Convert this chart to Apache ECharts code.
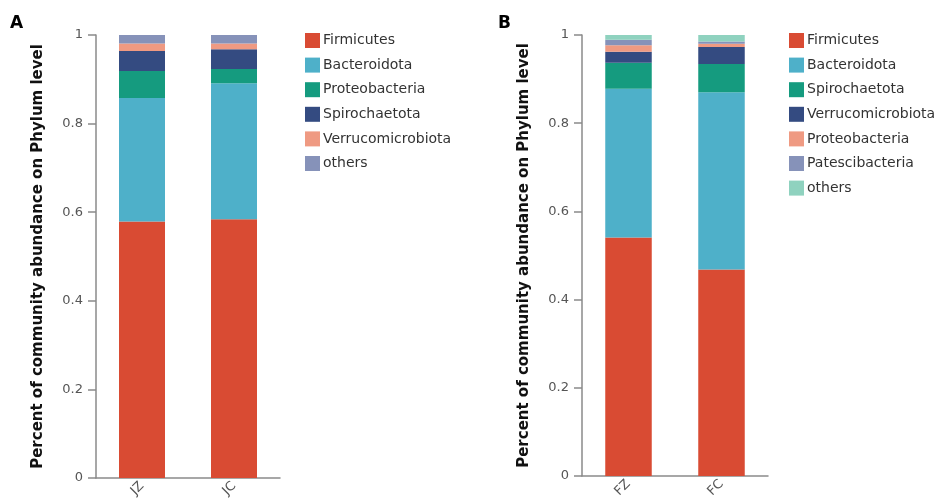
<!DOCTYPE html>
<html>
<head>
<meta charset="utf-8">
<script src="https://cdn.jsdelivr.net/npm/echarts@6/dist/echarts.min.js"></script>
<style>
  html, body { margin: 0; padding: 0; background: #fff; }
  #main { width: 936px; height: 504px; }
</style>
</head>
<body>
<div id="main"></div>
<script>
// panel A
var groupsA = ['JZ', 'JC'];
var phylaA = ['Firmicutes', 'Bacteroidota', 'Proteobacteria', 'Spirochaetota', 'Verrucomicrobiota', 'others'];
var colorsA = ['#d94b33', '#4eb0c9', '#159b7f', '#344b81', '#ef9a82', '#8692b9'];
var valuesA = [
    [0.579, 0.584],
    [0.279, 0.307],
    [0.061, 0.032],
    [0.045, 0.045],
    [0.017, 0.013],
    [0.019, 0.019]
];

// panel B
var groupsB = ['FZ', 'FC'];
var phylaB = ['Firmicutes', 'Bacteroidota', 'Spirochaetota', 'Verrucomicrobiota', 'Proteobacteria', 'Patescibacteria', 'others'];
var colorsB = ['#d94b33', '#4eb0c9', '#159b7f', '#344b81', '#ef9a82', '#8692b9', '#8fd2bf'];
var valuesB = [
    [0.541, 0.468],
    [0.337, 0.402],
    [0.059, 0.064],
    [0.025, 0.039],
    [0.015, 0.007],
    [0.012, 0.005],
    [0.011, 0.015]
];

var yTicks = [0, 0.2, 0.4, 0.6, 0.8, 1];
var yName = 'Percent of community abundance on Phylum level';

var font = 'DejaVu Sans, Liberation Sans, Arial, sans-serif';
var axisGrey = '#8a8a8a';

function xAxis(idx, data) {
    return {
        type: 'category',
        gridIndex: idx,
        data: data,
        axisLine: { lineStyle: { color: axisGrey, width: 1.5 } },
        axisTick: { alignWithLabel: true, length: 5, lineStyle: { color: axisGrey, width: 1.5 } },
        axisLabel: { rotate: 45, color: '#555', fontSize: 13, fontFamily: font, margin: 6 }
    };
}

function yAxis(idx) {
    return {
        type: 'value',
        gridIndex: idx,
        min: 0,
        max: 1,
        interval: 0.2,
        name: yName,
        nameLocation: 'middle',
        nameGap: 50,
        nameTextStyle: { color: '#111', fontSize: 15, fontWeight: 'bold', fontFamily: font },
        splitLine: { show: false },
        axisLine: { show: true, lineStyle: { color: axisGrey, width: 1.5 } },
        axisTick: { show: true, length: 8, lineStyle: { color: axisGrey, width: 1.5 } },
        axisLabel: {
            color: '#555', fontSize: 13, fontFamily: font, margin: 13,
            formatter: function (v) { return yTicks.indexOf(v) >= 0 ? String(v) : ''; }
        }
    };
}

function legend(names, colors, left) {
    var data = [];
    for (var i = 0; i < names.length; i++) {
        data.push({ name: names[i], itemStyle: { color: colors[i] } });
    }
    return {
        orient: 'vertical',
        left: left,
        top: 28,
        icon: 'rect',
        itemWidth: 15,
        itemHeight: 15,
        itemGap: 9.6,
        selectedMode: false,
        textStyle: { color: '#333', fontSize: 14, fontFamily: font, padding: [0, 0, 0, -2] },
        data: data
    };
}

var series = [];
for (var i = 0; i < phylaA.length; i++) {
    series.push({
        name: phylaA[i],
        type: 'bar',
        stack: 'A',
        xAxisIndex: 0,
        yAxisIndex: 0,
        barWidth: '50%',
        itemStyle: { color: colorsA[i] },
        data: valuesA[i]
    });
}
for (var j = 0; j < phylaB.length; j++) {
    series.push({
        name: phylaB[j],
        type: 'bar',
        stack: 'B',
        xAxisIndex: 1,
        yAxisIndex: 1,
        barWidth: '50%',
        itemStyle: { color: colorsB[j] },
        data: valuesB[j]
    });
}

var myChart = echarts.init(document.getElementById('main'));
myChart.setOption({
    animation: false,
    title: [
        { text: 'A', left: 5, top: 10, textStyle: { fontSize: 17, fontWeight: 'bold', color: '#000', fontFamily: font } },
        { text: 'B', left: 493, top: 10, textStyle: { fontSize: 17, fontWeight: 'bold', color: '#000', fontFamily: font } }
    ],
    grid: [
        { left: 96, top: 35, width: 184, bottom: 26 },
        { left: 582, top: 35, width: 186, bottom: 28 }
    ],
    legend: [legend(phylaA, colorsA, 300), legend(phylaB, colorsB, 784)],
    xAxis: [xAxis(0, groupsA), xAxis(1, groupsB)],
    yAxis: [yAxis(0), yAxis(1)],
    series: series
});
</script>
</body>
</html>
